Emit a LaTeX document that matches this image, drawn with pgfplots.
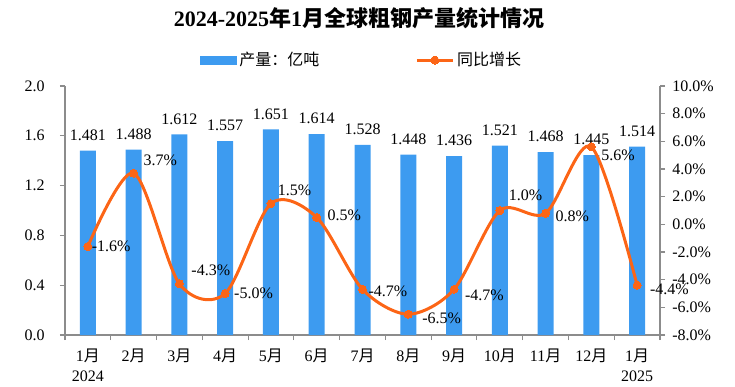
\documentclass[border=0pt]{standalone}
\usepackage{fontspec}
\setmainfont{Liberation Serif}
\newfontfamily\cjk{Noto Sans CJK SC}
\usepackage{pgfplots}
\usepackage{pgfplotstable}
\pgfplotsset{compat=1.18}
\definecolor{barblue}{RGB}{61,155,240}
\definecolor{lineorange}{RGB}{252,101,22}
\definecolor{axisgray}{RGB}{140,140,140}
\pgfplotsset{linelegend/.style={legend image code/.code={\draw[mark repeat=2,mark phase=2,##1] plot coordinates {(0pt,0pt) (13.5pt,0pt) (27pt,0pt)};}},
  barlegend/.style={legend image code/.code={\fill[barblue] (0pt,-3pt) rectangle (27pt,3pt);}}}

\pgfplotstableread{
x y
0 1.481
1 1.488
2 1.612
3 1.557
4 1.651
5 1.614
6 1.528
7 1.448
8 1.436
9 1.521
10 1.468
11 1.445
12 1.514
}\prodtable

\pgfplotstableread{
x y dx dy
0 -1.6 3 0
1 3.7 7.5 9.75
2 -4.3 9 10.5
3 -5.0 6.75 0
4 1.5 5.25 9.75
5 0.5 8.25 1.5
6 -4.7 4.5 -1.5
7 -6.5 10.5 -3
8 -4.7 8.25 -4.5
9 1.0 6.75 11.25
10 0.8 7.5 -2.25
11 5.6 7.5 -6
12 -4.4 9.75 -3
}\growtable

\begin{document}
\begin{tikzpicture}[x=1pt,y=1pt]
\useasboundingbox (0,0) rectangle (551.25,289.5);
\node[font=\fontsize{16.5}{18}\selectfont\bfseries] at (269.25,276) {2024-2025{\cjk 年}1{\cjk 月全球粗钢产量统计情况}};

\pgfplotsset{/pgf/number format/assume math mode=true}

\begin{axis}[
  at={(48.75pt,38.25pt)}, anchor=south west,
  scale only axis, width=446.25pt, height=186.75pt,
  xmin=-0.5, xmax=12.5, ymin=0, ymax=2.0,
  axis y line*=left, axis x line*=bottom,
  axis line style={-, axisgray, line width=0.8pt},
  ytick={0,0.4,0.8,1.2,1.6,2.0},
  yticklabel={\pgfmathprintnumber[fixed,fixed zerofill,precision=1]{\tick}},
  yticklabel style={font=\fontsize{12}{14}\selectfont, xshift=-8pt},
  xtick={0,1,2,3,4,5,6,7,8,9,10,11,12},
  xticklabels={{1{\cjk 月}\\2024},{2{\cjk 月}},{3{\cjk 月}},{4{\cjk 月}},{5{\cjk 月}},{6{\cjk 月}},{7{\cjk 月}},{8{\cjk 月}},{9{\cjk 月}},{10{\cjk 月}},{11{\cjk 月}},{12{\cjk 月}},{1{\cjk 月}\\2025}},
  xticklabel style={align=center, font=\fontsize{12}{15.5}\selectfont, yshift=-3pt},
  major x tick style={draw=none},
  minor xtick={-0.5,0.5,1.5,2.5,3.5,4.5,5.5,6.5,7.5,8.5,9.5,10.5,11.5,12.5},
  tick align=outside, major tick length=3.75pt, minor tick length=3.75pt,
  tick style={axisgray, line width=0.8pt},
  ybar, bar width=12pt,
  nodes near coords={\pgfmathprintnumber[fixed,fixed zerofill,precision=3]{\pgfplotspointmeta}},
  every node near coord/.append style={font=\fontsize{12}{14}\selectfont, yshift=4pt, text=black},
  clip=false,
]
\addplot[fill=barblue, draw=none] table[x=x,y=y] {\prodtable};
\end{axis}

\begin{axis}[
  at={(48.75pt,38.25pt)}, anchor=south west,
  scale only axis, width=446.25pt, height=186.75pt,
  xmin=-0.5, xmax=12.5, ymin=-8, ymax=10,
  axis y line*=right, axis x line=none,
  axis line style={-, axisgray, line width=0.8pt},
  ytick={-8,-6,-4,-2,0,2,4,6,8,10},
  yticklabel={\pgfmathprintnumber[fixed,fixed zerofill,precision=1]{\tick}\%},
  yticklabel style={font=\fontsize{12}{14}\selectfont, xshift=2pt},
  tick align=outside, major tick length=3.75pt,
  tick style={axisgray, line width=0.8pt},
  clip=false,
  legend columns=2,
  legend style={at={(axis description cs:0.22,1.104)}, anchor=west, draw=none, fill=none,
    font=\fontsize{12}{14}\selectfont,
    /tikz/every even column/.append style={column sep=70pt}},
]
\addlegendimage{barlegend}
\addlegendentry{\cjk 产量：亿吨}
\addplot[lineorange, line width=2.25pt, smooth, mark=*, mark size=3pt,
  mark options={fill=lineorange, draw=lineorange, line width=0pt},
  linelegend,
  nodes near coords={\pgfmathprintnumber[fixed,fixed zerofill,precision=1]{\pgfplotspointmeta}\%},
  visualization depends on={\thisrow{dx} \as \dx},
  visualization depends on={\thisrow{dy} \as \dy},
  every node near coord/.append style={anchor=west, inner sep=0pt, xshift=\dx, yshift=\dy, text=black, font=\fontsize{12}{14}\selectfont}
] table[x=x,y=y] {\growtable};
\addlegendentry{\cjk 同比增长}
\end{axis}
\end{tikzpicture}
\end{document}
